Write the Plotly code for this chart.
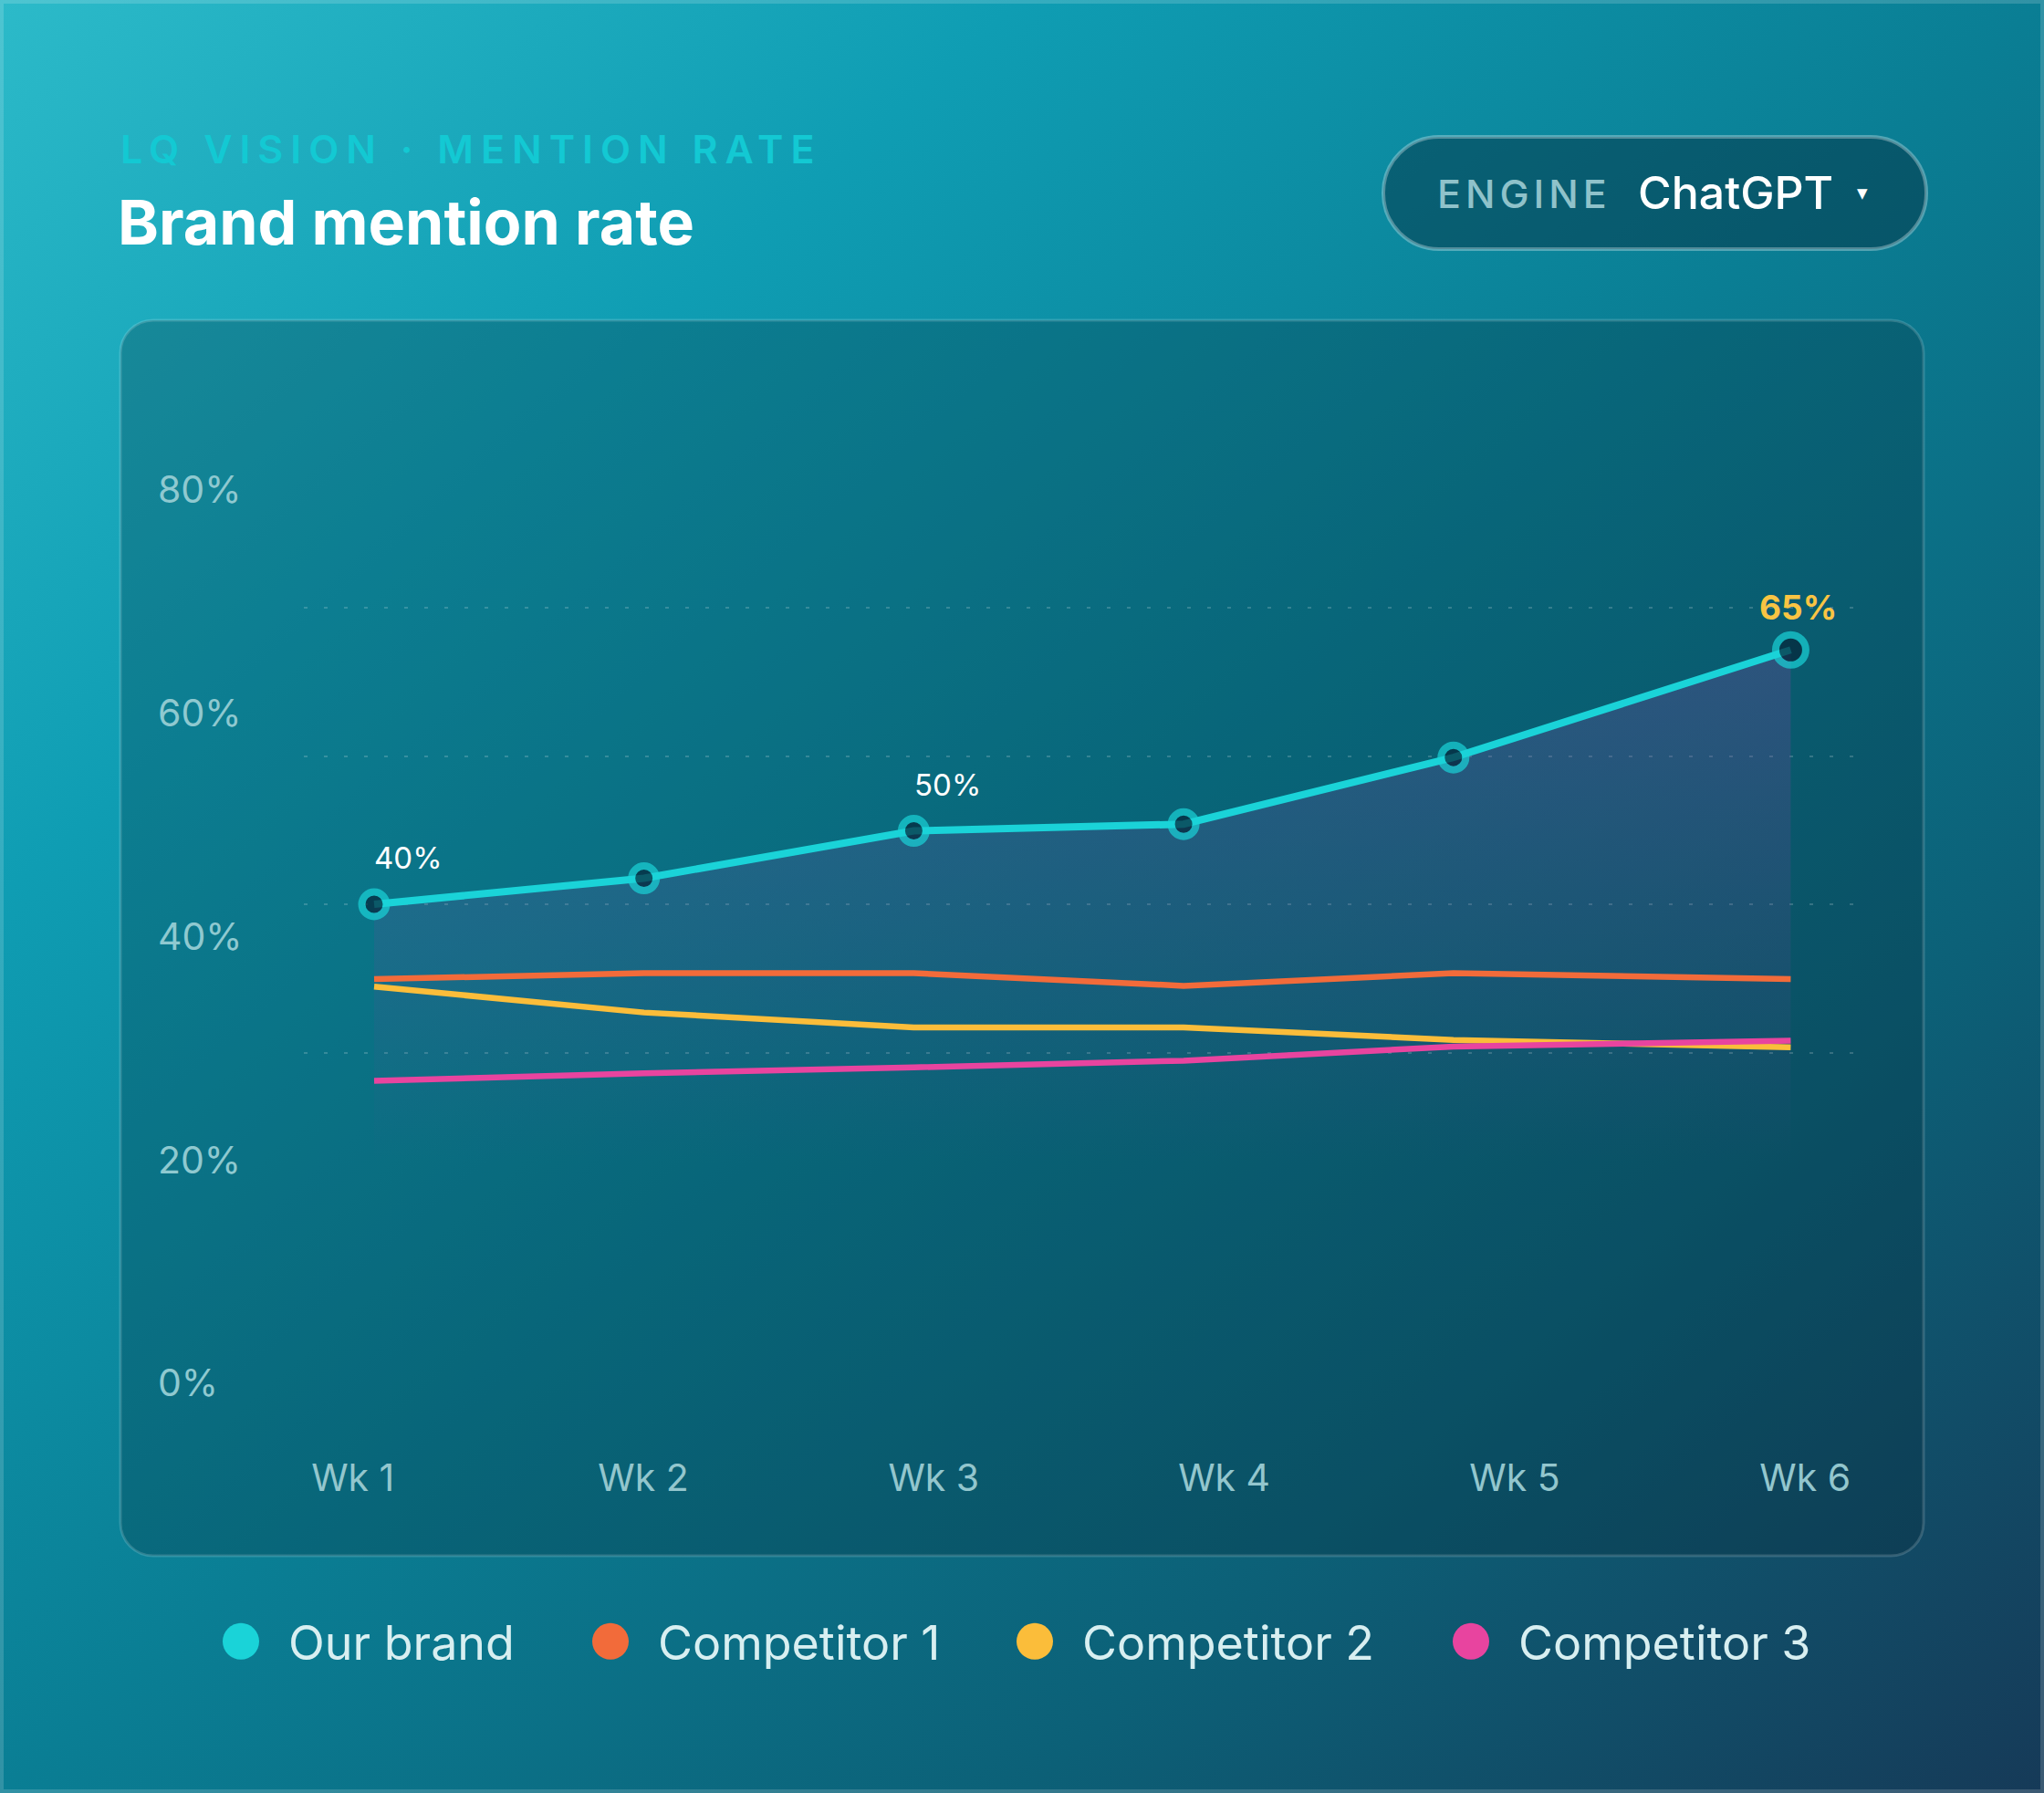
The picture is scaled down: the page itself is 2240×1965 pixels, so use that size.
import base64
import plotly.graph_objects as go

# ---------------- data ----------------
weeks = ["Wk 1", "Wk 2", "Wk 3", "Wk 4", "Wk 5", "Wk 6"]
week_pos = [1, 2, 3, 4, 5, 6.25]          # where each week's points sit on the plot
series_names = ["Our brand", "Competitor 1", "Competitor 2", "Competitor 3"]
our_brand = [40.0, 43.5, 49.9, 50.8, 59.8, 74.3]
competitor_1 = [29.9, 30.7, 30.7, 29.0, 30.7, 29.9]
competitor_2 = [28.9, 25.4, 23.4, 23.4, 21.7, 20.7]
competitor_3 = [16.2, 17.2, 18.0, 18.9, 20.8, 21.6]
callout_index = [0, 2, 5]
callout_text = ["40%", "50%", "65%"]
y_tick_vals = [0, 20, 40, 60, 80]
y_tick_text = ["0%", "20%", "40%", "60%", "80%"]
grid_vals = [20, 40, 60, 80]
week_tick_vals = [1, 2, 3, 4, 5, 6]

# ---------------- styling ----------------
W, H = 2240, 1965
FONT = "Inter"
colors = ["#1ad3d8", "#f26b3a", "#fbbd3a", "#e8449f"]
series = [our_brand, competitor_1, competitor_2, competitor_3]
legend_ids = ["legend", "legend2", "legend3", "legend4"]
legend_dot_px = [262, 667, 1132, 1610]     # layout: x pixel of each legend dot


def px_x(p):
    return p / W


def px_y(p):
    return 1 - p / H


# main (marks) axes: pixel mapping
X0, X1 = 333, 2036
def wk_at(p):
    return 1 + (p - 410) / 295.7
def val_at(p):
    return 40 - (p - 991) / 8.125

# label axes mapping
LX0 = 170
LY1 = 1592
def lab_wk_at(p):
    return 1 + (p - 386.7) / 318.3
def lab_val_at(p):
    return (1516 - p) / 12.2375


def rounded_rect(x0, y0, x1, y1, r):
    k = 0.5523 * r
    def P(x, y):
        return f"{px_x(x):.6f},{px_y(y):.6f}"
    d = f"M {P(x0 + r, y0)} L {P(x1 - r, y0)} "
    d += f"C {P(x1 - r + k, y0)} {P(x1, y0 + r - k)} {P(x1, y0 + r)} "
    d += f"L {P(x1, y1 - r)} "
    d += f"C {P(x1, y1 - r + k)} {P(x1 - r + k, y1)} {P(x1 - r, y1)} "
    d += f"L {P(x0 + r, y1)} "
    d += f"C {P(x0 + r - k, y1)} {P(x0, y1 - r + k)} {P(x0, y1 - r)} "
    d += f"L {P(x0, y0 + r)} "
    d += f"C {P(x0, y0 + r - k)} {P(x0 + r - k, y0)} {P(x0 + r, y0)} Z"
    return d


bg_svg = (
    f'<svg xmlns="http://www.w3.org/2000/svg" width="{W}" height="{H}" viewBox="0 0 {W} {H}" preserveAspectRatio="none">'
    '<defs><linearGradient id="g" x1="0" y1="0" x2="1" y2="1">'
    '<stop offset="0" stop-color="#2cbac9"/>'
    '<stop offset="0.25" stop-color="#0f9db3"/>'
    '<stop offset="0.5" stop-color="#0a7e94"/>'
    '<stop offset="0.75" stop-color="#0c6077"/>'
    '<stop offset="1" stop-color="#163a58"/>'
    '</linearGradient></defs>'
    f'<rect width="{W}" height="{H}" fill="url(#g)"/></svg>'
)
bg_src = "data:image/svg+xml;base64," + base64.b64encode(bg_svg.encode()).decode()

fig = go.Figure()

# Our brand with gradient fill
fig.add_trace(go.Scatter(
    x=week_pos, y=our_brand, mode="lines+markers", name=series_names[0],
    line=dict(color=colors[0], width=8),
    marker=dict(size=[27] * (len(our_brand) - 1) + [33], color="#05263a",
                line=dict(color=colors[0], width=8)),
    fill="tozeroy",
    fillgradient=dict(type="vertical", start=5, stop=75,
                      colorscale=[[0, "rgba(110,70,150,0)"], [0.4, "rgba(110,70,150,0.16)"],
                                  [1, "rgba(110,70,150,0.36)"]]),
    showlegend=False, hoverinfo="skip",
))
for name, vals, c in zip(series_names[1:], series[1:], colors[1:]):
    fig.add_trace(go.Scatter(
        x=week_pos, y=vals, mode="lines", name=name,
        line=dict(color=c, width=6.5), showlegend=False, hoverinfo="skip",
    ))

# axis-label subplot (carries the tick labels only)
fig.add_trace(go.Scatter(
    x=week_tick_vals, y=[None] * len(week_tick_vals), xaxis="x2", yaxis="y2",
    mode="lines", showlegend=False, hoverinfo="skip",
))

# legend entries
for name, c, lid in zip(series_names, colors, legend_ids):
    fig.add_trace(go.Scatter(
        x=[None], y=[None], mode="markers", name=name, legend=lid,
        marker=dict(size=16, color=c, line=dict(width=0)),
        showlegend=True, hoverinfo="skip",
    ))

annotations = []
for k, i in enumerate(callout_index):
    last = i == len(our_brand) - 1
    annotations.append(dict(
        x=week_pos[i], y=our_brand[i], xref="x", yref="y",
        text=callout_text[k], showarrow=False,
        xanchor="center", yanchor="middle",
        xshift=8 if last else 37, yshift=47 if last else 51,
        font=dict(family=FONT, size=37 if last else 33,
                  color="#f9c443" if last else "#ffffff",
                  weight=700 if last else 400),
    ))

annotations += [
    dict(x=px_x(130), y=px_y(163), xref="paper", yref="paper", text="LQ VISION · MENTION RATE",
         showarrow=False, xanchor="left", yanchor="middle", align="left",
         font=dict(family=FONT, size=43, color="#13c9d3", weight=600)),
    dict(x=px_x(127), y=px_y(243), xref="paper", yref="paper", text="Brand mention rate",
         showarrow=False, xanchor="left", yanchor="middle", align="left",
         font=dict(family=FONT, size=68, color="#ffffff", weight=700)),
    dict(x=px_x(1573), y=px_y(212), xref="paper", yref="paper", text="ENGINE",
         showarrow=False, xanchor="left", yanchor="middle", align="left",
         font=dict(family=FONT, size=43, color="#8fc2ca", weight=500)),
    dict(x=px_x(1793), y=px_y(211), xref="paper", yref="paper", text="ChatGPT",
         showarrow=False, xanchor="left", yanchor="middle", align="left",
         font=dict(family=FONT, size=50, color="#ffffff", weight=500)),
    dict(x=px_x(2041), y=px_y(212), xref="paper", yref="paper", text="▼",
         showarrow=False, xanchor="center", yanchor="middle",
         font=dict(family="DejaVu Sans", size=15, color="#ffffff")),
]

shapes = [
    dict(type="path", path=rounded_rect(132, 351, 2108, 1705, 36), xref="paper", yref="paper",
         fillcolor="rgba(5,30,45,0.25)", line=dict(color="rgba(255,255,255,0.16)", width=3),
         layer="below"),
    dict(type="path", path=rounded_rect(1516, 150, 2111, 273, 61), xref="paper", yref="paper",
         fillcolor="rgba(4,35,52,0.42)", line=dict(color="rgba(255,255,255,0.3)", width=4),
         layer="below"),
    dict(type="rect", x0=0, x1=1, y0=0, y1=1, xref="paper", yref="paper",
         line=dict(color="rgba(255,255,255,0.16)", width=8), fillcolor="rgba(0,0,0,0)",
         layer="above"),
]

legend_common = dict(orientation="h", yanchor="middle", y=px_y(1799), xanchor="left",
                     font=dict(family=FONT, size=52, color="#d8eff1"),
                     bgcolor="rgba(0,0,0,0)", itemwidth=94,
                     itemclick=False, itemdoubleclick=False)
legend_layout = {}
for lid, dot in zip(legend_ids, legend_dot_px):
    legend_layout[lid] = dict(legend_common, x=px_x(dot - 50))

fig.update_layout(
    width=W, height=H, autosize=False,
    margin=dict(l=0, r=0, t=0, b=0, pad=0),
    paper_bgcolor="#0a7e94", plot_bgcolor="rgba(0,0,0,0)",
    font=dict(family=FONT),
    images=[dict(source=bg_src, xref="paper", yref="paper", x=0, y=1, sizex=1, sizey=1,
                 xanchor="left", yanchor="top", sizing="stretch", layer="below")],
    xaxis=dict(domain=[px_x(X0), px_x(X1)], range=[wk_at(X0), wk_at(X1)], anchor="y",
               showgrid=False, zeroline=False, showticklabels=False, showline=False,
               fixedrange=True),
    yaxis=dict(domain=[0, 1], range=[val_at(H), val_at(0)], anchor="x",
               tickvals=grid_vals, showticklabels=False, showgrid=True,
               gridcolor="rgba(255,255,255,0.18)", gridwidth=2, griddash="4px,18px",
               zeroline=False, showline=False, fixedrange=True),
    xaxis2=dict(domain=[px_x(LX0), 1], range=[lab_wk_at(LX0), lab_wk_at(W)], anchor="y2",
                tickvals=week_tick_vals, ticktext=weeks, showgrid=False, zeroline=False,
                showline=False, ticks="",
                tickfont=dict(family=FONT, size=41, color="#93c6cd"), fixedrange=True),
    yaxis2=dict(domain=[px_y(LY1), 1], range=[lab_val_at(LY1), lab_val_at(0)], anchor="x2",
                tickvals=y_tick_vals, ticktext=y_tick_text, ticklabelposition="inside",
                side="left", showgrid=False, zeroline=False, showline=False, ticks="",
                tickfont=dict(family=FONT, size=41, color="#8fc9d0"), fixedrange=True),
    annotations=annotations,
    shapes=shapes,
    hovermode=False,
    **legend_layout,
)

post = """
var gd = document.getElementById('{plot_id}');
gd.querySelectorAll('text.annotation-text').forEach(function(t){
  var s = t.textContent;
  if (s.indexOf('LQ VISION') === 0) { t.style.letterSpacing = '8px'; }
  if (s === 'ENGINE') { t.style.letterSpacing = '5px'; }
});
gd.querySelectorAll('.legendpoints path.scatterpts').forEach(function(p){
  var tr = p.getAttribute('transform') || '';
  p.setAttribute('transform', tr + ' scale(2.5)');
});
"""

fig.write_html("out.html", post_script=post, config={"displayModeBar": False, "staticPlot": True})
